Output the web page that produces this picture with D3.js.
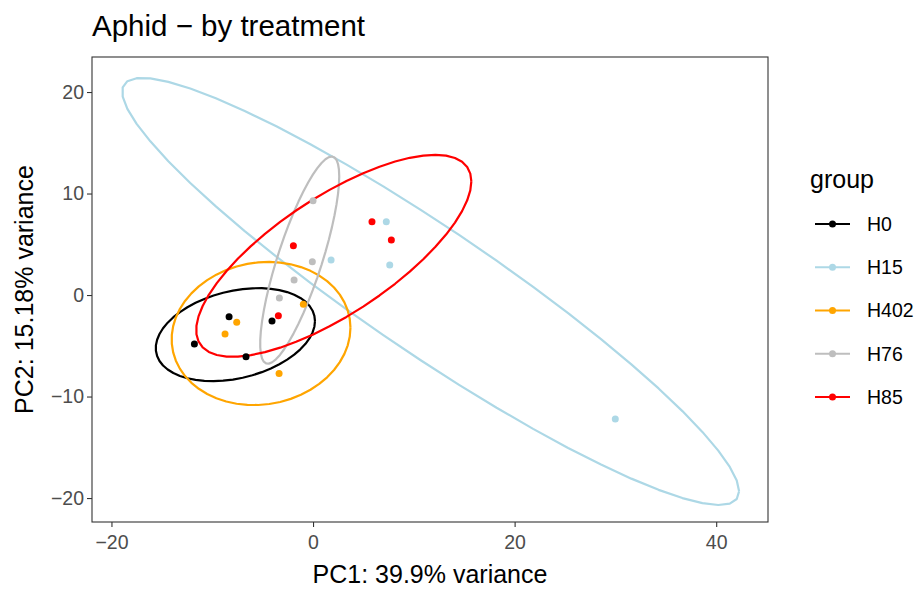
<!DOCTYPE html>
<html>
<head>
<meta charset="utf-8">
<script src="https://cdn.jsdelivr.net/npm/d3@7"></script>
<style>
  html, body { margin: 0; padding: 0; background: #fff; }
  svg { display: block; font-family: "Liberation Sans", Arial, Helvetica, sans-serif; }
</style>
</head>
<body>
<svg id="chart" width="919" height="590"></svg>
<script>
// PCA scores per sample, grouped by treatment
const groups = ["H0", "H15", "H402", "H76", "H85"];
const groupColors = ["#000000", "#ADD8E6", "#FFA500", "#BEBEBE", "#FF0000"];

const sampleGroup = [
  "H0", "H0", "H0", "H0",
  "H15", "H15", "H15", "H15",
  "H402", "H402", "H402", "H402",
  "H76", "H76", "H76", "H76",
  "H85", "H85", "H85", "H85"
];
const pc1 = [
  -8.33, -11.77, -6.65, -4.07,
  1.79, 7.27, 7.61, 29.99,
  -0.96, -7.57, -8.73, -3.37,
  0.00, -0.07, -1.88, -3.34,
  -1.95, 5.85, 7.77, -3.44
];
const pc2 = [
  -2.14, -4.83, -6.08, -2.56,
  3.45, 7.22, 2.96, -12.22,
  -0.92, -2.69, -3.84, -7.72,
  9.30, 3.28, 1.48, -0.30,
  4.86, 7.22, 5.42, -2.04
];

const xTicks = [-20, 0, 20, 40];
const yTicks = [-20, -10, 0, 10, 20];
const xDomain = [-21.93, 45.14];
const yDomain = [-22.36, 23.45];

const titleText = "Aphid \u2212 by treatment";
const xLabel = "PC1: 39.9% variance";
const yLabel = "PC2: 15.18% variance";
const legendTitle = "group";

// Panel geometry
const panel = { left: 92, right: 768, top: 57, bottom: 522 };

const svg = d3.select("#chart");
const x = d3.scaleLinear().domain(xDomain).range([panel.left, panel.right]);
const y = d3.scaleLinear().domain(yDomain).range([panel.bottom, panel.top]);
const color = d3.scaleOrdinal().domain(groups).range(groupColors);

const samples = pc1.map((v, i) => ({ g: sampleGroup[i], x: v, y: pc2[i] }));

// 95% normal confidence ellipse from the sample mean and covariance
function ellipsePoints(pts, level = 0.95, segments = 51) {
  const n = pts.length;
  const mx = d3.mean(pts, d => d[0]), my = d3.mean(pts, d => d[1]);
  let a = 0, b = 0, c = 0;
  pts.forEach(d => {
    const dx = d[0] - mx, dy = d[1] - my;
    a += dx * dx; b += dx * dy; c += dy * dy;
  });
  a /= (n - 1); b /= (n - 1); c /= (n - 1);
  // chi-square quantile with 2 degrees of freedom
  const radius = Math.sqrt(-2 * Math.log(1 - level));
  // Cholesky factor of the covariance
  const r11 = Math.sqrt(a);
  const r12 = b / r11;
  const r22 = Math.sqrt(c - r12 * r12);
  const out = [];
  for (let k = 0; k <= segments; k++) {
    const t = k * 2 * Math.PI / segments;
    const ct = Math.cos(t), st = Math.sin(t);
    out.push([mx + radius * ct * r11, my + radius * (ct * r12 + st * r22)]);
  }
  return out;
}

// Title
svg.append("text")
  .attr("x", panel.left).attr("y", 36)
  .attr("font-size", 29.5).attr("fill", "#000")
  .text(titleText);

// Clip for panel contents
svg.append("clipPath").attr("id", "panelClip")
  .append("rect")
  .attr("x", panel.left).attr("y", panel.top)
  .attr("width", panel.right - panel.left).attr("height", panel.bottom - panel.top);

const plot = svg.append("g").attr("clip-path", "url(#panelClip)");

const line = d3.line().x(d => x(d[0])).y(d => y(d[1]));

groups.forEach(g => {
  const pts = samples.filter(d => d.g === g).map(d => [d.x, d.y]);
  plot.append("path")
    .attr("d", line(ellipsePoints(pts)))
    .attr("fill", "none")
    .attr("stroke", color(g))
    .attr("stroke-width", 2.2)
    .attr("stroke-linejoin", "round");
});

plot.selectAll("circle.pt")
  .data(samples)
  .join("circle")
  .attr("class", "pt")
  .attr("cx", d => x(d.x))
  .attr("cy", d => y(d.y))
  .attr("r", 3.5)
  .attr("fill", d => color(d.g));

// Panel border
svg.append("rect")
  .attr("x", panel.left).attr("y", panel.top)
  .attr("width", panel.right - panel.left).attr("height", panel.bottom - panel.top)
  .attr("fill", "none").attr("stroke", "#333333").attr("stroke-width", 1.1);

// Axes
const fmt = d => d < 0 ? "\u2212" + Math.abs(d) : d;
const xAxis = svg.append("g")
  .attr("transform", `translate(0,${panel.bottom})`)
  .call(d3.axisBottom(x).tickValues(xTicks).tickFormat(fmt).tickSize(5).tickPadding(3));
const yAxis = svg.append("g")
  .attr("transform", `translate(${panel.left},0)`)
  .call(d3.axisLeft(y).tickValues(yTicks).tickFormat(fmt).tickSize(5).tickPadding(3));

[xAxis, yAxis].forEach(ax => {
  ax.select(".domain").remove();
  ax.selectAll(".tick line").attr("stroke", "#333333").attr("stroke-width", 1.1);
  ax.selectAll(".tick text")
    .attr("fill", "#4D4D4D")
    .attr("font-size", 19.5)
    .attr("font-family", "'Liberation Sans', Arial, sans-serif");
});
xAxis.selectAll(".tick text").attr("dy", "0.95em");

// Axis titles
svg.append("text")
  .attr("x", (panel.left + panel.right) / 2).attr("y", 583)
  .attr("text-anchor", "middle").attr("font-size", 25).attr("fill", "#000")
  .text(xLabel);

svg.append("text")
  .attr("transform", `translate(33,${(panel.top + panel.bottom) / 2}) rotate(-90)`)
  .attr("text-anchor", "middle").attr("font-size", 25).attr("fill", "#000")
  .text(yLabel);

// Legend
const legend = svg.append("g");
legend.append("text")
  .attr("x", 810).attr("y", 188)
  .attr("font-size", 25).attr("fill", "#000")
  .text(legendTitle);

const keyY = d3.scalePoint().domain(groups).range([224, 397]);
const keys = legend.selectAll("g.key").data(groups).join("g")
  .attr("class", "key")
  .attr("transform", g => `translate(0,${keyY(g)})`);
keys.append("line")
  .attr("x1", 815).attr("x2", 850).attr("y1", 0).attr("y2", 0)
  .attr("stroke", g => color(g)).attr("stroke-width", 2.2);
keys.append("circle")
  .attr("cx", 832.5).attr("cy", 0).attr("r", 3.5)
  .attr("fill", g => color(g));
keys.append("text")
  .attr("x", 867).attr("y", 0).attr("dy", "0.35em")
  .attr("font-size", 19.5).attr("fill", "#000")
  .text(g => g);
</script>
</body>
</html>
